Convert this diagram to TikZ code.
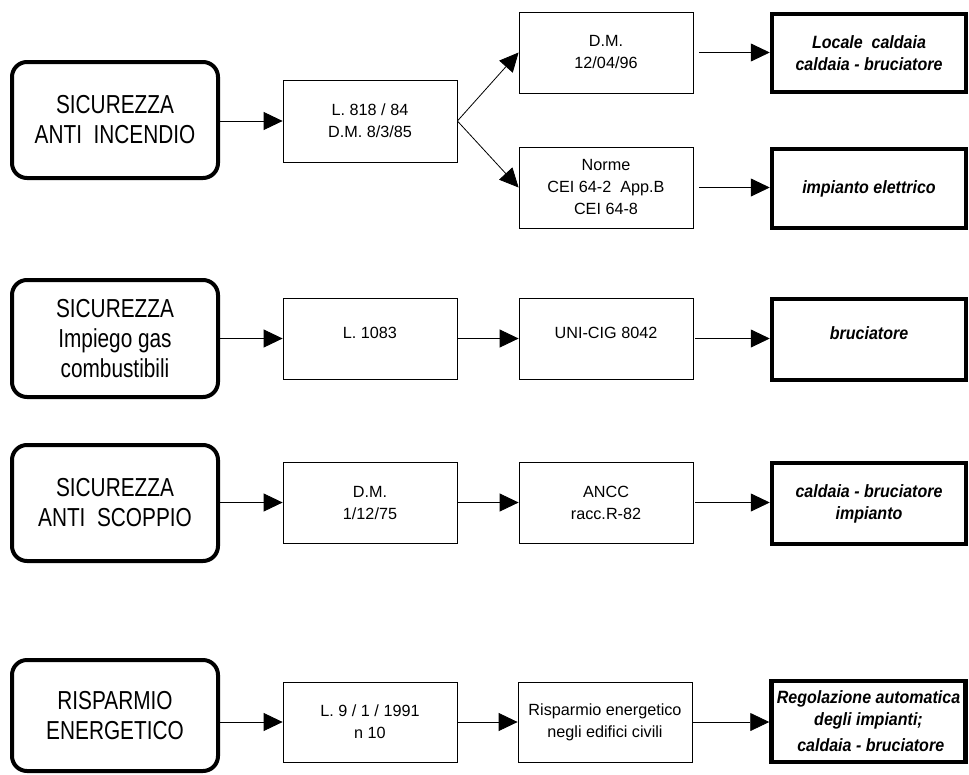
\documentclass[tikz,border=0pt]{standalone}
\usepackage{fontspec}
\setmainfont{Liberation Sans}
\newfontfamily\narrowfont[FakeStretch=0.80]{Liberation Sans}
\newfontfamily\resfont[FakeStretch=0.90]{Liberation Sans}
\usetikzlibrary{arrows.meta}
\begin{document}
\begin{tikzpicture}[x=1pt,y=-1pt,
  catbox/.style={draw, rounded corners=15pt, line width=4pt, minimum width=206pt,
    align=center, font=\narrowfont\fontsize{26}{30}\selectfont, inner sep=2pt},
  lawbox/.style={draw, line width=0.8pt, minimum width=174pt, minimum height=81pt,
    align=center, font=\fontsize{16.2}{22}\selectfont, inner sep=2pt},
  resbox/.style={draw, line width=4.5pt, minimum width=194pt, minimum height=80pt,
    align=center, font=\resfont\fontsize{17.8}{22}\selectfont\bfseries\itshape, inner xsep=1pt},
  upper/.style={text depth=12pt},
  conn/.style={line width=0.8pt, -{Triangle[length=19pt,width=18pt]}},
  gap/.style={shorten <=6pt},
  sgap/.style={shorten <=2pt}
]
\useasboundingbox (0,0) rectangle (969,774);

% Row 1
\node[catbox, minimum height=116pt] (c1) at (115,120) {SICUREZZA\\ANTI~~INCENDIO};
\node[lawbox, minimum height=82pt] (l1) at (370,121) {L. 818 / 84\\D.M. 8/3/85};
\node[lawbox] (m1a) at (606,52.5) {D.M.\\12/04/96};
\node[lawbox] (m1b) at (606,187.5) {Norme\\CEI 64-2~~App.B\\CEI 64-8};
\node[resbox, minimum height=78pt] (r1a) at (869,53) {Locale~~caldaia\\caldaia - bruciatore};
\node[resbox, minimum height=79pt] (r1b) at (869,188.5) {impianto elettrico};
\draw[conn] (c1.east |- l1.west) -- (l1.west);
\draw[conn] (l1.east) -- (m1a.west);
\draw[conn] (l1.east) -- (m1b.west);
\draw[conn, gap] (m1a.east) -- (r1a.west |- m1a.east);
\draw[conn, gap] (m1b.east) -- (r1b.west |- m1b.east);

% Row 2
\node[catbox, minimum height=117pt] (c2) at (115,338.5) {SICUREZZA\\Impiego gas\\combustibili};
\node[lawbox, upper] (l2) at (370,338.5) {L. 1083};
\node[lawbox, upper] (m2) at (606,338.5) {UNI-CIG 8042};
\node[resbox, upper, minimum height=81pt] (r2) at (869,339.5) {bruciatore};
\draw[conn] (c2.east) -- (l2.west);
\draw[conn] (l2.east) -- (m2.west);
\draw[conn, sgap] (m2.east) -- (r2.west |- m2.east);

% Row 3
\node[catbox, minimum height=116pt] (c3) at (115,503) {SICUREZZA\\ANTI~~SCOPPIO};
\node[lawbox] (l3) at (370,502.5) {D.M.\\1/12/75};
\node[lawbox] (m3) at (606,502.5) {ANCC\\racc.R-82};
\node[resbox, minimum height=81pt] (r3) at (869,503.5) {caldaia - bruciatore\\impianto};
\draw[conn] (c3.east |- l3.west) -- (l3.west);
\draw[conn] (l3.east) -- (m3.west);
\draw[conn, sgap] (m3.east) -- (r3.west |- m3.east);

% Row 4
\node[catbox, minimum height=111pt] (c4) at (115,715.5) {RISPARMIO\\ENERGETICO};
\node[lawbox, minimum height=80pt] (l4) at (370,722) {L. 9 / 1 / 1991\\n 10};
\node[lawbox, minimum height=80pt] (m4) at (605,722) {Risparmio energetico\\negli edifici civili};
\node[resbox, minimum height=81pt] (r4) at (868.5,721.5) {Regolazione automatica\\degli impianti;\\[4pt]~caldaia - bruciatore};
\draw[conn] (c4.east |- l4.west) -- (l4.west);
\draw[conn] (l4.east) -- (m4.west);
\draw[conn] (m4.east) -- (r4.west |- m4.east);
\end{tikzpicture}
\end{document}
